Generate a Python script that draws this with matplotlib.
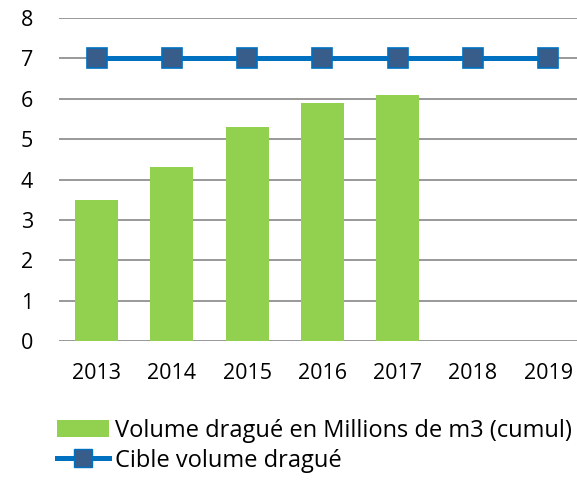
import matplotlib
matplotlib.use("Agg")
import matplotlib.pyplot as plt
from matplotlib.patches import Patch
from matplotlib.lines import Line2D

years = ["2013", "2014", "2015", "2016", "2017", "2018", "2019"]
volume = [3.5, 4.3, 5.3, 5.9, 6.1, None, None]
target = [7, 7, 7, 7, 7, 7, 7]
yticks = [0, 1, 2, 3, 4, 5, 6, 7, 8]

plt.rcParams['font.family'] = ['Open Sans', 'DejaVu Sans']

W, H = 577, 491
fig = plt.figure(figsize=(W/100, H/100), dpi=100)
left, right = 59, 585.7
top, bottom = 18, 341
ax = fig.add_axes([left/W, 1 - bottom/H, (right-left)/W, (bottom-top)/H])

x = list(range(len(years)))
bx = [i for i, v in zip(x, volume) if v is not None]
bv = [v for v in volume if v is not None]
ax.bar(bx, bv, width=0.57, color="#92D050", zorder=2)
ax.plot(x, target, color="#0070C0", lw=3.6, marker="s", markersize=14,
        markerfacecolor="#385D8A", markeredgecolor="#0070C0", markeredgewidth=1.2, zorder=3)

ax.set_xlim(-0.5, 6.5)
ax.set_ylim(0, 8)
ax.set_yticks(yticks)
ax.set_xticks(x)
ax.set_xticklabels(years)
ax.grid(axis="y", color="#888888", lw=1.2, zorder=0)
for s in ax.spines.values():
    s.set_visible(False)
ax.tick_params(axis="both", length=0, labelsize=15.5, colors="black")
ax.tick_params(axis="x", pad=16)
for lbl in ax.get_yticklabels():
    lbl.set_horizontalalignment("center")
ax.yaxis.set_tick_params(pad=23)

handles = [Patch(facecolor="#92D050", edgecolor="none"),
           Line2D([0], [0], color="#0070C0", lw=3.6, marker="s", markersize=13,
                  markerfacecolor="#385D8A", markeredgecolor="#0070C0")]
labels = ["Volume dragué en Millions de m3 (cumul)", "Cible volume dragué"]
fig.legend(handles, labels, loc="upper left", bbox_to_anchor=(57/W, 1 - 419/H),
           frameon=False, fontsize=17, handlelength=2.2, handleheight=0.75,
           handletextpad=0.25, labelspacing=0.25, borderaxespad=0, borderpad=0)

fig.savefig("out.png", dpi=100)
